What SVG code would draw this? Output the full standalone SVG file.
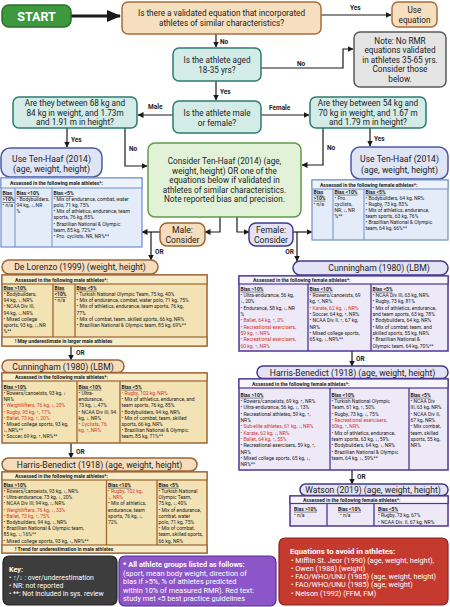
<svg xmlns="http://www.w3.org/2000/svg" width="450" height="607" viewBox="0 0 450 607">
<defs>
<marker id="ah" markerWidth="6" markerHeight="6" refX="5.5" refY="3" orient="auto" markerUnits="userSpaceOnUse"><path d="M0,0 L6,3 L0,6 z" fill="#1a1a1a"/></marker>
<marker id="big" markerWidth="14" markerHeight="12" refX="13" refY="6" orient="auto" markerUnits="userSpaceOnUse"><path d="M0,0 L14,6 L0,12 z" fill="#1a1a1a"/></marker>
</defs>
<style>
text{font-family:Roboto,"Liberation Sans","DejaVu Sans",sans-serif;fill:#222}
.q{font-size:8.2px;text-anchor:middle}
.lbl{font-size:6.5px;font-weight:bold}
.pill{font-size:8.6px;text-anchor:middle}
.tb{font-size:5px}
.th{font-size:5px;font-weight:bold}
.bh{font-size:5px;font-weight:bold;text-decoration:underline}
.red{fill:#d3372f}
.w{fill:#fff}
.c{stroke:#1a1a1a;stroke-width:1.2;fill:none;marker-end:url(#ah)}
.tan{fill:#f6dfbf;stroke:#a86d3a;stroke-width:1.5}
.teal{fill:#d3ece8;stroke:#2d7b70;stroke-width:1.5}
.blue{fill:#dfe5f7;stroke:#4a5ba6;stroke-width:1.5}
.bt{fill:#e4ecf9;stroke:#6d8fcc;stroke-width:1.2}
.bth{fill:#edf2fb;stroke:#6d8fcc;stroke-width:1}
.btl{stroke:#6d8fcc;stroke-width:1}
.mp{fill:#f4dcbc;stroke:#9b6535;stroke-width:1.5}
.mt{fill:#f3e3b4;stroke:#9b6535;stroke-width:1.5}
.mth{fill:#f8ecc8;stroke:#9b6535;stroke-width:1.2}
.mtl{stroke:#9b6535;stroke-width:1.3}
.fp{fill:#e4e3f5;stroke:#3f3b8c;stroke-width:1.5}
.ft{fill:#ede9f7;stroke:#4e3596;stroke-width:1.5}
.fth{fill:#f7f5fc;stroke:#4e3596;stroke-width:1.2}
.ftl{stroke:#4e3596;stroke-width:1.3}
</style>

<g id="connectors">
<path d="M71,16 H120" stroke="#1a1a1a" stroke-width="2.8" fill="none" marker-end="url(#big)"/>
<path class="c" d="M321,15 H391"/>
<path class="c" d="M216,34 V47"/>
<path class="c" d="M261,68 H343 V49 H353"/>
<path class="c" d="M216,81 V100"/>
<path class="c" d="M173,115 H138"/>
<path class="c" d="M261,115 H309"/>
<path class="c" d="M67,128 V147"/>
<path class="c" d="M125,128 V166 H147"/>
<path class="c" d="M370,128 V146"/>
<path class="c" d="M323,128 V165 H302"/>
<path class="c" d="M220,217 V232 H205"/>
<path class="c" d="M237,217 V232 H249"/>
<path class="c" d="M160,232 H142"/>
<path class="c" d="M151,232 V260"/>
<path class="c" d="M293,232 H312"/>
<path class="c" d="M297,232 V261"/>
<path class="c" d="M71,346 V360"/>
<path class="c" d="M71,443 V458"/>
<path class="c" d="M352,351 V366"/>
<path class="c" d="M352,470 V484"/>
<text class="lbl" x="350" y="10">Yes</text>
<text class="lbl" x="220" y="44">No</text>
<text class="lbl" x="297" y="66">No</text>
<text class="lbl" x="220" y="94">Yes</text>
<text class="lbl" x="148" y="109">Male</text>
<text class="lbl" x="269" y="110">Female</text>
<text class="lbl" x="71" y="142">Yes</text>
<text class="lbl" x="129" y="151">No</text>
<text class="lbl" x="374" y="141">Yes</text>
<text class="lbl" x="327" y="150">No</text>
<text class="lbl" x="155" y="254">OR</text>
<text class="lbl" x="294" y="254" text-anchor="end">OR</text>
<text class="lbl" x="76" y="354.5">OR</text>
<text class="lbl" x="76" y="453.5">OR</text>
<text class="lbl" x="356" y="360.5">OR</text>
<text class="lbl" x="357" y="478.5">OR</text>
</g>

<g id="start">
<rect x="2" y="5" width="69" height="22" rx="7" fill="#3e993e" stroke="#2a6e2a" stroke-width="1.5"/>
<text x="36.5" y="20.5" text-anchor="middle" font-size="12.5" font-weight="bold" class="w">START</text>
</g>

<g id="q-validated">
<rect class="tan" x="122" y="2" width="199" height="32" rx="6"/>
<text class="q" x="221.5" y="16">Is there a validated equation that incorporated</text>
<text class="q" x="221.5" y="26">athletes of similar characteristics?</text>
</g>

<g id="use-equation">
<rect class="tan" x="392" y="2" width="45" height="25" rx="6"/>
<text class="q" x="414.5" y="12.5">Use</text>
<text class="q" x="414.5" y="22.5">equation</text>
</g>

<g id="q-age">
<rect class="teal" x="173" y="48" width="88" height="33" rx="6"/>
<text class="q" x="217" y="63">Is the athlete aged</text>
<text class="q" x="217" y="73">18-35 yrs?</text>
</g>

<g id="note">
<rect x="354" y="32" width="92" height="55" rx="6" fill="#e4e4e4" stroke="#5a5a5a" stroke-width="1.5"/>
<text class="q" x="400" y="43.5">Note: No RMR</text>
<text class="q" x="400" y="53">equations validated</text>
<text class="q" x="400" y="62.5">in athletes 35-65 yrs.</text>
<text class="q" x="400" y="72">Consider those</text>
<text class="q" x="400" y="81.5">below.</text>
</g>

<g id="q-sex">
<rect class="teal" x="173" y="101" width="88" height="32" rx="6"/>
<text class="q" x="217" y="116">Is the athlete male</text>
<text class="q" x="217" y="125.5">or female?</text>
</g>

<g id="q-male-size">
<rect class="teal" x="13" y="97" width="124" height="31" rx="6"/>
<text class="q" x="75" y="106">Are they between 68 kg and</text>
<text class="q" x="75" y="115.5">84 kg in weight, and 1.73m</text>
<text class="q" x="75" y="125">and 1.91 m in height?</text>
</g>

<g id="q-female-size">
<rect class="teal" x="310" y="97" width="116" height="31" rx="6"/>
<text class="q" x="368" y="106">Are they between 54 kg and</text>
<text class="q" x="368" y="115.5">70 kg in weight, and 1.67 m</text>
<text class="q" x="368" y="125">and 1.79 m in height?</text>
</g>

<g id="consider">
<rect x="148" y="143" width="153" height="74" rx="7" fill="#e2f2d9" stroke="#5b9d48" stroke-width="1.5"/>
<text class="q" x="224.5" y="164">Consider Ten-Haaf (2014) (age,</text>
<text class="q" x="224.5" y="173.5">weight, height) OR one of the</text>
<text class="q" x="224.5" y="183">equations below if validated in</text>
<text class="q" x="224.5" y="192.5">athletes of similar characteristics.</text>
<text class="q" x="224.5" y="202">Note reported bias and precision.</text>
</g>

<g id="tenhaaf-male">
<rect class="blue" x="1" y="148" width="101" height="29" rx="9"/>
<text class="pill" x="51.5" y="161.5">Use Ten-Haaf (2014)</text>
<text class="pill" x="51.5" y="172">(age, weight, height)</text>
<rect class="bt" x="1" y="178" width="141" height="69"/>
<rect class="bth" x="1" y="178" width="141" height="10"/>
<line class="btl" x1="15" y1="188" x2="15" y2="247"/>
<line class="btl" x1="52" y1="188" x2="52" y2="247"/>
<text class="th" x="10" y="185.3">Assessed in the following male athletes*:</text>
<text class="bh" x="2.5" y="195">Bias</text>
<text class="bh" x="2.5" y="201.1">&gt;10%</text>
<text class="tb" x="2.5" y="207.2">• n/a</text>
<text class="bh" x="16.5" y="195">Bias &lt;10%</text>
<text class="tb" x="16.5" y="201.1">• Bodybuilders,</text>
<text class="tb" x="16.5" y="207.2">94 kg, ↓, NR</text>
<text class="tb" x="16.5" y="213.3">%</text>
<text class="bh" x="53.5" y="195">Bias &lt;5%</text>
<text class="tb" x="53.5" y="201.1">• Mix of endurance, combat, water</text>
<text class="tb" x="53.5" y="207.2">polo, 71 kg, 75%</text>
<text class="tb" x="53.5" y="213.3">• Mix of athletics, endurance,  team</text>
<text class="tb" x="53.5" y="219.4">sports, 76 kg, 85%</text>
<text class="tb" x="53.5" y="225.5">• Brazillian National &amp; Olympic</text>
<text class="tb" x="53.5" y="231.6">team, 85 kg, 72%**</text>
<text class="tb" x="53.5" y="237.7">• Pro. cyclists, NR, NR%**</text>
</g>

<g id="tenhaaf-female">
<rect class="blue" x="351" y="147" width="97" height="32" rx="9"/>
<text class="pill" x="399.5" y="162">Use Ten-Haaf (2014)</text>
<text class="pill" x="399.5" y="172.5">(age, weight, height)</text>
<rect class="bt" x="312" y="180" width="136" height="60"/>
<rect class="bth" x="312" y="180" width="136" height="9"/>
<line class="btl" x1="333" y1="189" x2="333" y2="240"/>
<line class="btl" x1="364" y1="189" x2="364" y2="240"/>
<text class="th" x="320" y="186.5">Assessed in the following female athletes*:</text>
<text class="bh" x="313.5" y="193.8">Bias</text>
<text class="bh" x="313.5" y="199.8">&gt;10%</text>
<text class="tb" x="313.5" y="205.8">• n/a</text>
<text class="bh" x="334.5" y="193.8">Bias &lt;10%</text>
<text class="tb" x="334.5" y="199.8">• Pro.</text>
<text class="tb" x="334.5" y="205.8">cyclists,</text>
<text class="tb" x="334.5" y="211.8">NR, ↓, NR</text>
<text class="tb" x="334.5" y="217.8">%**</text>
<text class="bh" x="365.5" y="193.8">Bias &lt;5%</text>
<text class="tb" x="365.5" y="199.8">• Bodybuilders, 64 kg, NR%</text>
<text class="tb" x="365.5" y="205.8">• Rugby, 73 kg,  83%</text>
<text class="tb" x="365.5" y="211.8">• Mix of athletics, endurance,</text>
<text class="tb" x="365.5" y="217.8">team sports, 63 kg, 76%</text>
<text class="tb" x="365.5" y="223.8">• Brazillian National &amp; Olympic</text>
<text class="tb" x="365.5" y="229.8">team, 64 kg, 66%**</text>
</g>

<g id="male-consider">
<rect class="mp" x="160" y="223" width="45" height="23" rx="7"/>
<text class="pill" x="182.5" y="233" font-size="9.3">Male:</text>
<text class="pill" x="182.5" y="243" font-size="9.3">Consider</text>
</g>

<g id="female-consider">
<rect class="fp" x="249" y="223" width="44" height="23" rx="7" fill="#dfe1f5"/>
<text class="pill" x="271" y="233" font-size="9.3">Female:</text>
<text class="pill" x="271" y="243" font-size="9.3">Consider</text>
</g>

<g id="delorenzo-male">
<rect class="mp" x="2" y="260" width="156" height="14" rx="7"/>
<text class="pill" x="80" y="270">De Lorenzo (1999) (weight, height)</text>
<rect class="mt" x="2" y="275" width="205" height="71"/>
<rect class="mth" x="2" y="275" width="205" height="9"/>
<rect class="mth" x="2" y="337" width="205" height="9"/>
<line class="mtl" x1="53" y1="284" x2="53" y2="337"/>
<line class="mtl" x1="75" y1="284" x2="75" y2="337"/>
<text class="th" x="15" y="282">Assessed in the following male athletes*:</text>
<text class="bh" x="3.5" y="289.8">Bias &gt;10%</text>
<text class="tb" x="3.5" y="296">• Bodybuilders,</text>
<text class="tb" x="3.5" y="302.2">94 kg, ↓, NR%</text>
<text class="tb" x="3.5" y="308.4">• NCAA Div III,</text>
<text class="tb" x="3.5" y="314.6">94 kg, ↓, NR%</text>
<text class="tb" x="3.5" y="320.8">• Mixed college</text>
<text class="tb" x="3.5" y="327">sports, 93 kg, ↓, NR</text>
<text class="tb" x="3.5" y="333.2">%**</text>
<text class="bh" x="54.5" y="289.8">Bias</text>
<text class="bh" x="54.5" y="296">&lt;10%</text>
<text class="tb" x="54.5" y="302.2">• n/a</text>
<text class="bh" x="76.5" y="289.8">Bias &lt;5%</text>
<text class="tb" x="76.5" y="296">• Turkish National Olympic Team, 75 kg, 40%</text>
<text class="tb" x="76.5" y="302.2">• Mix of endurance, combat, water polo, 71 kg, 75%</text>
<text class="tb" x="76.5" y="308.4">• Mix of athletics, endurance, team sports, 76 kg,</text>
<text class="tb" x="76.5" y="314.6">77%</text>
<text class="tb" x="76.5" y="320.8">• Mix of combat, team, skilled sports, 66 kg, NR%</text>
<text class="tb" x="76.5" y="327">• Brazillian National &amp; Olympic team, 85 kg, 69%**</text>
<text class="th" x="15" y="343">! May underestimate in larger male athletes</text>
</g>

<g id="cunningham-male">
<rect class="mp" x="2" y="360" width="122" height="12.5" rx="6"/>
<text class="pill" x="63" y="369.5">Cunningham (1980) (LBM)</text>
<rect class="mt" x="2" y="373" width="205" height="70"/>
<rect class="mth" x="2" y="373" width="205" height="8"/>
<line class="mtl" x1="77" y1="381" x2="77" y2="443"/>
<line class="mtl" x1="120" y1="381" x2="120" y2="443"/>
<text class="th" x="15" y="378.8">Assessed in the following male athletes*:</text>
<text class="bh" x="3.5" y="388.8">Bias &gt;10%</text>
<text class="tb" x="3.5" y="395">• Rowers/canoeists, 93 kg, ↓</text>
<text class="tb" x="3.5" y="401.2">NR%</text>
<text class="tb red" x="3.5" y="407.4">• Weightlifters, 76 kg, ↓, 20%</text>
<text class="tb red" x="3.5" y="413.6">• Rugby, 95 kg, ↑, 17%</text>
<text class="tb red" x="3.5" y="419.8">• Ballet, 73 kg, ↑, 20%</text>
<text class="tb" x="3.5" y="426">• Mixed college sports, 93 kg,</text>
<text class="tb" x="3.5" y="432.2">↓, NR%**</text>
<text class="tb" x="3.5" y="438.4">• Soccer, 69 kg, ↑, NR%**</text>
<text class="bh" x="78.5" y="388.8">Bias &lt;10%</text>
<text class="tb" x="78.5" y="395">• Ultra-</text>
<text class="tb" x="78.5" y="401.2">endurance,</text>
<text class="tb" x="78.5" y="407.4">73 kg, ↓, 47%</text>
<text class="tb" x="78.5" y="413.6">• NCAA Div III, 94</text>
<text class="tb" x="78.5" y="419.8">kg, ↓, NR%</text>
<text class="tb red" x="78.5" y="426">• Cyclists, 76</text>
<text class="tb red" x="78.5" y="432.2">kg, ↑, NR%</text>
<text class="bh" x="121.5" y="388.8">Bias &lt;5%</text>
<text class="tb red" x="121.5" y="395">• Rugby, 102 kg, NR%</text>
<text class="tb" x="121.5" y="401.2">• Mix of athletics, endurance, and</text>
<text class="tb" x="121.5" y="407.4">team sports, 76 kg, 85%</text>
<text class="tb" x="121.5" y="413.6">• Bodybuilders, 94 kg, NR%</text>
<text class="tb" x="121.5" y="419.8">• Mix of combat, team, skilled</text>
<text class="tb" x="121.5" y="426">sports, 66 kg, NR%</text>
<text class="tb" x="121.5" y="432.2">• Brazillian National &amp; Olympic</text>
<text class="tb" x="121.5" y="438.4">team, 85 kg, 71%**</text>
</g>

<g id="harris-male">
<rect class="mp" x="2" y="458" width="195" height="13" rx="6.5"/>
<text class="pill" x="99.5" y="467.6">Harris-Benedict (1918) (age, weight, height)</text>
<rect class="mt" x="2" y="472" width="205" height="81"/>
<rect class="mth" x="2" y="472" width="205" height="8"/>
<rect class="mth" x="2" y="545" width="205" height="8"/>
<line class="mtl" x1="106.5" y1="480" x2="106.5" y2="545"/>
<line class="mtl" x1="157" y1="480" x2="157" y2="545"/>
<text class="th" x="15" y="477.8">Assessed in the following male athletes*:</text>
<text class="bh" x="3.5" y="486.8">Bias &gt;10%</text>
<text class="tb" x="3.5" y="493">• Rowers/canoeists, 93 kg, ↓, NR%</text>
<text class="tb" x="3.5" y="499.2">• Ultra-endurance, 73 kg, ↓, 20%</text>
<text class="tb" x="3.5" y="505.4">• NCAA Div III, 94 kg, ↓, NR%</text>
<text class="tb red" x="3.5" y="511.6">• Weightlifters, 76 kg, ↓, 33%</text>
<text class="tb red" x="3.5" y="517.8">• Ballet, 73 kg, ↑, 75%</text>
<text class="tb" x="3.5" y="524">• Bodybuilders, 94 kg, ↓, NR%</text>
<text class="tb" x="3.5" y="530.2">• Brazillian National &amp; Olympic team,</text>
<text class="tb" x="3.5" y="536.4">85 kg, ↓, 16%**</text>
<text class="tb" x="3.5" y="542.6">• Mixed college sports, 93 kg, ↓, NR%**</text>
<text class="bh" x="108" y="486.8">Bias &lt;10%</text>
<text class="tb red" x="108" y="493">• Rugby, 102 kg,</text>
<text class="tb red" x="108" y="499.2">↓, NR%</text>
<text class="tb" x="108" y="505.4">• Mix of athletics,</text>
<text class="tb" x="108" y="511.6">endurance, team</text>
<text class="tb" x="108" y="517.8">sports, 76 kg, ↓,</text>
<text class="tb" x="108" y="524">72%</text>
<text class="bh" x="158.5" y="486.8">Bias &lt;5%</text>
<text class="tb" x="158.5" y="493">• Turkish National</text>
<text class="tb" x="158.5" y="499.2">Olympic Team,</text>
<text class="tb" x="158.5" y="505.4">75 kg, ↓, 40%</text>
<text class="tb" x="158.5" y="511.6">• Mix of endurance,</text>
<text class="tb" x="158.5" y="517.8">combat,  water</text>
<text class="tb" x="158.5" y="524">polo, 71 kg, 75%</text>
<text class="tb" x="158.5" y="530.2">• Mix of combat,</text>
<text class="tb" x="158.5" y="536.4">team, skilled sports,</text>
<text class="tb" x="158.5" y="542.6">66 kg, NR%</text>
<text class="th" x="15" y="551">! Trend for underestimation in male athletes</text>
</g>

<g id="cunningham-female">
<rect class="fp" x="293" y="261" width="155" height="14" rx="7"/>
<text class="pill" x="379" y="271">Cunningham (1980) (LBM)</text>
<rect class="ft" x="239" y="276" width="209" height="75"/>
<rect class="fth" x="239" y="276" width="209" height="8"/>
<line class="ftl" x1="308" y1="284" x2="308" y2="351"/>
<line class="ftl" x1="371" y1="284" x2="371" y2="351"/>
<text class="th" x="253" y="281.8">Assessed in the following female athletes*:</text>
<text class="bh" x="240.5" y="290.8">Bias &gt;10%</text>
<text class="tb" x="240.5" y="297.1">• Ultra-endurance, 56 kg,</text>
<text class="tb" x="240.5" y="303.4">↓, 20%</text>
<text class="tb" x="240.5" y="309.7">• Endurance, 58 kg, ↓, NR</text>
<text class="tb" x="240.5" y="316">%</text>
<text class="tb red" x="240.5" y="322.3">• Ballet, 64 kg, ↑, 0%</text>
<text class="tb red" x="240.5" y="328.6">• Recreational exercisers,</text>
<text class="tb red" x="240.5" y="334.9">59 kg, ↑, NR%</text>
<text class="tb red" x="240.5" y="341.2">• Recreational exercisers,</text>
<text class="tb red" x="240.5" y="347.5">60 kg, ↑, NR%</text>
<text class="bh" x="309.5" y="290.8">Bias &lt;10%</text>
<text class="tb" x="309.5" y="297.1">• Rowers/canoeists, 69</text>
<text class="tb" x="309.5" y="303.4">kg, ↑, NR%</text>
<text class="tb red" x="309.5" y="309.7">• Karate, 62 kg, ↓, NR%</text>
<text class="tb" x="309.5" y="316">• Soccer, 64 kg, ↑, NR%</text>
<text class="tb" x="309.5" y="322.3">• NCAA Div II, ↑, 67 kg,</text>
<text class="tb" x="309.5" y="328.6">NR%</text>
<text class="tb" x="309.5" y="334.9">• Mixed college sports,</text>
<text class="tb" x="309.5" y="341.2">65 kg, ↓, NR%**</text>
<text class="bh" x="372.5" y="290.8">Bias &lt;5%</text>
<text class="tb" x="372.5" y="297.1">• NCAA Div III, 63 kg, NR%</text>
<text class="tb" x="372.5" y="303.4">• Rugby, 73 kg, 81%</text>
<text class="tb" x="372.5" y="309.7">• Mix of athletics, endurance,</text>
<text class="tb" x="372.5" y="316">and team sports, 63 kg, 78%</text>
<text class="tb" x="372.5" y="322.3">• Bodybuilders, 64 kg, NR%</text>
<text class="tb" x="372.5" y="328.6">• Mix of combat, team, and</text>
<text class="tb" x="372.5" y="334.9">skilled sports, 55 kg, NR%</text>
<text class="tb" x="372.5" y="341.2">• Brazillian National &amp;</text>
<text class="tb" x="372.5" y="347.5">Olympic team, 64 kg, 70%**</text>
</g>

<g id="harris-female">
<rect class="fp" x="257" y="366" width="191" height="12.5" rx="6"/>
<text class="pill" x="352.5" y="375.6">Harris-Benedict (1918) (age, weight, height)</text>
<rect class="ft" x="239" y="379" width="209" height="91"/>
<rect class="fth" x="239" y="379" width="209" height="9"/>
<line class="ftl" x1="330" y1="388" x2="330" y2="470"/>
<line class="ftl" x1="409" y1="388" x2="409" y2="470"/>
<text class="th" x="252" y="385.8">Assessed in the following female athletes*:</text>
<text class="bh" x="240.5" y="396.8">Bias &gt;10%</text>
<text class="tb" x="240.5" y="403.1">• Rowers/canoeists, 69 kg, ↑, NR%</text>
<text class="tb" x="240.5" y="409.4">• Ultra-endurance, 56 kg, ↓, 13%</text>
<text class="tb" x="240.5" y="415.7">• Recreational athletes, 59 kg, ↑,</text>
<text class="tb" x="240.5" y="422">NR%</text>
<text class="tb red" x="240.5" y="428.3">• Sub-elite athletes, 61 kg, ↓, NR%</text>
<text class="tb red" x="240.5" y="434.6">• Karate, 62 kg, ↓, NR%</text>
<text class="tb red" x="240.5" y="440.9">• Ballet, 64 kg, ↑, 55%</text>
<text class="tb" x="240.5" y="447.2">• Recreational exercisers, 59 kg, ↑,</text>
<text class="tb" x="240.5" y="453.5">NR%</text>
<text class="tb" x="240.5" y="459.8">• Mixed college sports, 65 kg, ↓,</text>
<text class="tb" x="240.5" y="466.1">NR%**</text>
<text class="bh" x="331.5" y="396.8">Bias &lt;10%</text>
<text class="tb" x="331.5" y="403.1">• Turkish National Olympic</text>
<text class="tb" x="331.5" y="409.4">Team, 61 kg, ↑, 50%</text>
<text class="tb" x="331.5" y="415.7">• Rugby, 73 kg, ↓, 75%</text>
<text class="tb red" x="331.5" y="422">• Recreational exercisers,</text>
<text class="tb red" x="331.5" y="428.3">60kg, ↑, NR%</text>
<text class="tb" x="331.5" y="434.6">• Mix of athletics, endurance,</text>
<text class="tb" x="331.5" y="440.9">team sports, 63 kg, ↓, 59%</text>
<text class="tb" x="331.5" y="447.2">• Bodybuilders, 64 kg, ↓, NR%</text>
<text class="tb" x="331.5" y="453.5">• Brazillian National &amp; Olympic</text>
<text class="tb" x="331.5" y="459.8">team, 64 kg, ↓, 59%**</text>
<text class="bh" x="410.5" y="396.8">Bias &lt;5%</text>
<text class="tb" x="410.5" y="403.1">• NCAA Div</text>
<text class="tb" x="410.5" y="409.4">III, 63 kg, NR%</text>
<text class="tb" x="410.5" y="415.7">• NCAA Div II,</text>
<text class="tb" x="410.5" y="422">67 kg, NR%</text>
<text class="tb" x="410.5" y="428.3">• Mix combat,</text>
<text class="tb" x="410.5" y="434.6">team, skilled</text>
<text class="tb" x="410.5" y="440.9">sports, 55 kg,</text>
<text class="tb" x="410.5" y="447.2">NR%</text>
</g>

<g id="watson-female">
<rect class="fp" x="300" y="484" width="148" height="11.5" rx="5.5"/>
<text class="pill" x="373" y="492.8">Watson (2019) (age, weight, height)</text>
<rect class="ft" x="290" y="496" width="158" height="30"/>
<rect class="fth" x="290" y="496" width="158" height="7.5"/>
<line class="ftl" x1="327" y1="503.5" x2="327" y2="526"/>
<line class="ftl" x1="374" y1="503.5" x2="374" y2="526"/>
<text class="th" x="303" y="502">Assessed in the following female athletes*:</text>
<text class="bh" x="294" y="510.8">Bias &gt;10%</text>
<text class="tb" x="294" y="517.2">• n/a</text>
<text class="bh" x="338" y="510.8">Bias &lt;10%</text>
<text class="tb" x="340" y="517.2">• n/a</text>
<text class="bh" x="378" y="510.8">Bias &lt;5%</text>
<text class="tb" x="378" y="517.2">• Rugby, 73 kg, 67%</text>
<text class="tb" x="378" y="523.6">• NCAA Div. II, 67 kg, NR%</text>
</g>

<g id="key">
<rect x="3" y="556" width="114" height="49" rx="6" fill="#3d3d3d" stroke="#222" stroke-width="1.2"/>
<text class="w" x="9" y="572" font-size="7.2" font-weight="bold">Key:</text>
<text class="w" x="9" y="580" font-size="6.9">• ↑/↓ : over/underestimation</text>
<text class="w" x="9" y="588" font-size="6.9">• NR: not reported</text>
<text class="w" x="9" y="596" font-size="6.9">• **: Not included in sys. review</text>
</g>

<g id="athlete-format">
<rect x="119" y="556" width="157" height="50" rx="6" fill="#8c55c8" stroke="#5c2e96" stroke-width="1.2"/>
<text class="w" x="123" y="567" font-size="7.4" font-weight="bold">* All athlete groups listed as follows:</text>
<text class="w" x="123" y="575.5" font-size="7.4">(sport, mean body weight, direction of</text>
<text class="w" x="123" y="584" font-size="7.4">bias if &gt;5%, % of athletes predicted</text>
<text class="w" x="123" y="592.5" font-size="7.4">within 10% of measured RMR). Red text:</text>
<text class="w" x="123" y="601" font-size="7.4">study met &lt;5 best practice guidelines</text>
</g>

<g id="avoid">
<rect x="279" y="538" width="169" height="67" rx="6" fill="#c53a2f" stroke="#8e2019" stroke-width="1.2"/>
<text class="w" x="290" y="554" font-size="7.8" font-weight="bold">Equations to avoid in athletes:</text>
<text class="w" x="291" y="563" font-size="7.3">• Mifflin St. Jeor (1990) (age, weight, height),</text>
<text class="w" x="291" y="571" font-size="7.3">• Owen (1988) (weight)</text>
<text class="w" x="291" y="579" font-size="7.3">• FAO/WHO/UNU (1985) (age, weight, height)</text>
<text class="w" x="291" y="587" font-size="7.3">• FAO/WHO/UNU (1985) (age, weight)</text>
<text class="w" x="291" y="595.5" font-size="7.3">• Nelson (1992) (FFM, FM)</text>
</g>
</svg>
